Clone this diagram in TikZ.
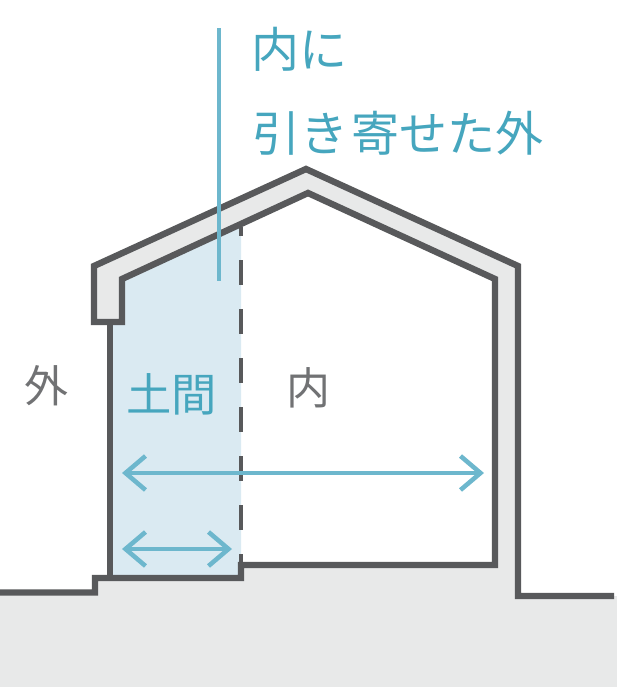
\documentclass[tikz,border=0pt]{standalone}
\usepackage{fontspec}
\newfontfamily\jpfont{Noto Sans CJK JP}
\usepackage{tikz}
\usetikzlibrary{arrows.meta}
\definecolor{WallGrey}{RGB}{88,89,91}
\definecolor{SlabGrey}{RGB}{232,233,233}
\definecolor{DomaBlue}{RGB}{218,234,242}
\definecolor{LeadBlue}{RGB}{109,183,205}
\definecolor{TextBlue}{RGB}{70,166,190}
\tikzset{
	>={Straight Barb[length=15pt,width=25.5pt]},
	wall/.style={WallGrey, line width=4.8pt},
	partition/.style={WallGrey, line width=3.5pt, dash pattern=on 18.75pt off 18pt, dash phase=12pt},
	lead/.style={LeadBlue, line width=3.2pt},
	span/.style={LeadBlue, line width=3.4pt, <->},
	labelblue/.style={TextBlue, font=\jpfont\fontsize{36}{36}\selectfont, inner sep=0pt, anchor=west},
	labelgrey/.style={WallGrey!85, font=\jpfont\fontsize{33}{33}\selectfont, inner sep=0pt},
}

\begin{document}
\begin{tikzpicture}[x=0.75pt,y=-0.75pt]
	\useasboundingbox (0,0) rectangle (617,687);
	
	% ground, walls and roof as one grey shape
	\fill[SlabGrey] (0,592) -- (95,592) -- (95,578) -- (241,578) -- (241,565) -- (495,565)
	-- (495,279) -- (308,193) -- (122,279) -- (122,322) -- (94,322) -- (94,266)
	-- (306,169) -- (518,266) -- (518,596) -- (617,596) -- (617,687) -- (0,687) -- cycle;
	
	% earth floor area
	\fill[DomaBlue] (110,578) -- (110,322) -- (122,322) -- (122,279) -- (241,224) -- (241,578) -- cycle;
	
	% outer line
	\draw[wall] (0,592.5) -- (95,592.5) -- (95,578) -- (241,578) -- (241,565) -- (495,565)
	-- (495,279) -- (308,193) -- (122,279) -- (122,322) -- (94,322) -- (94,266)
	-- (306,169) -- (518,266) -- (518,596) -- (614,596);
	\draw[wall] (110,322) -- (110,578);
	
	% sliding partition
	\draw[partition] (241,227) -- (241,565);
	
	\coordinate (leadtop) at (219,28);
	\coordinate (leadend) at (219,281);
	\draw[lead] (leadtop) -- (leadend);
	
	\coordinate (widea) at (122,473);
	\coordinate (wideb) at (484,473);
	\coordinate (narrowa) at (122,549);
	\coordinate (narrowb) at (232,549);
	\draw[span] (widea) -- (wideb);
	\draw[span] (narrowa) -- (narrowb);
	
	\node[labelblue] (upperline) at (251,49) {内に};
	\node[labelblue] (lowerline) at (252,133) {引き\hspace{2.5pt}寄せた外};
	\node[labelblue, font=\jpfont\fontsize{34}{34}\selectfont] (doma) at (126,394) {土間};
	\node[labelgrey] (outside) at (46,386) {外};
	\node[labelgrey] (inside) at (308,388) {内};
\end{tikzpicture}
\end{document}
